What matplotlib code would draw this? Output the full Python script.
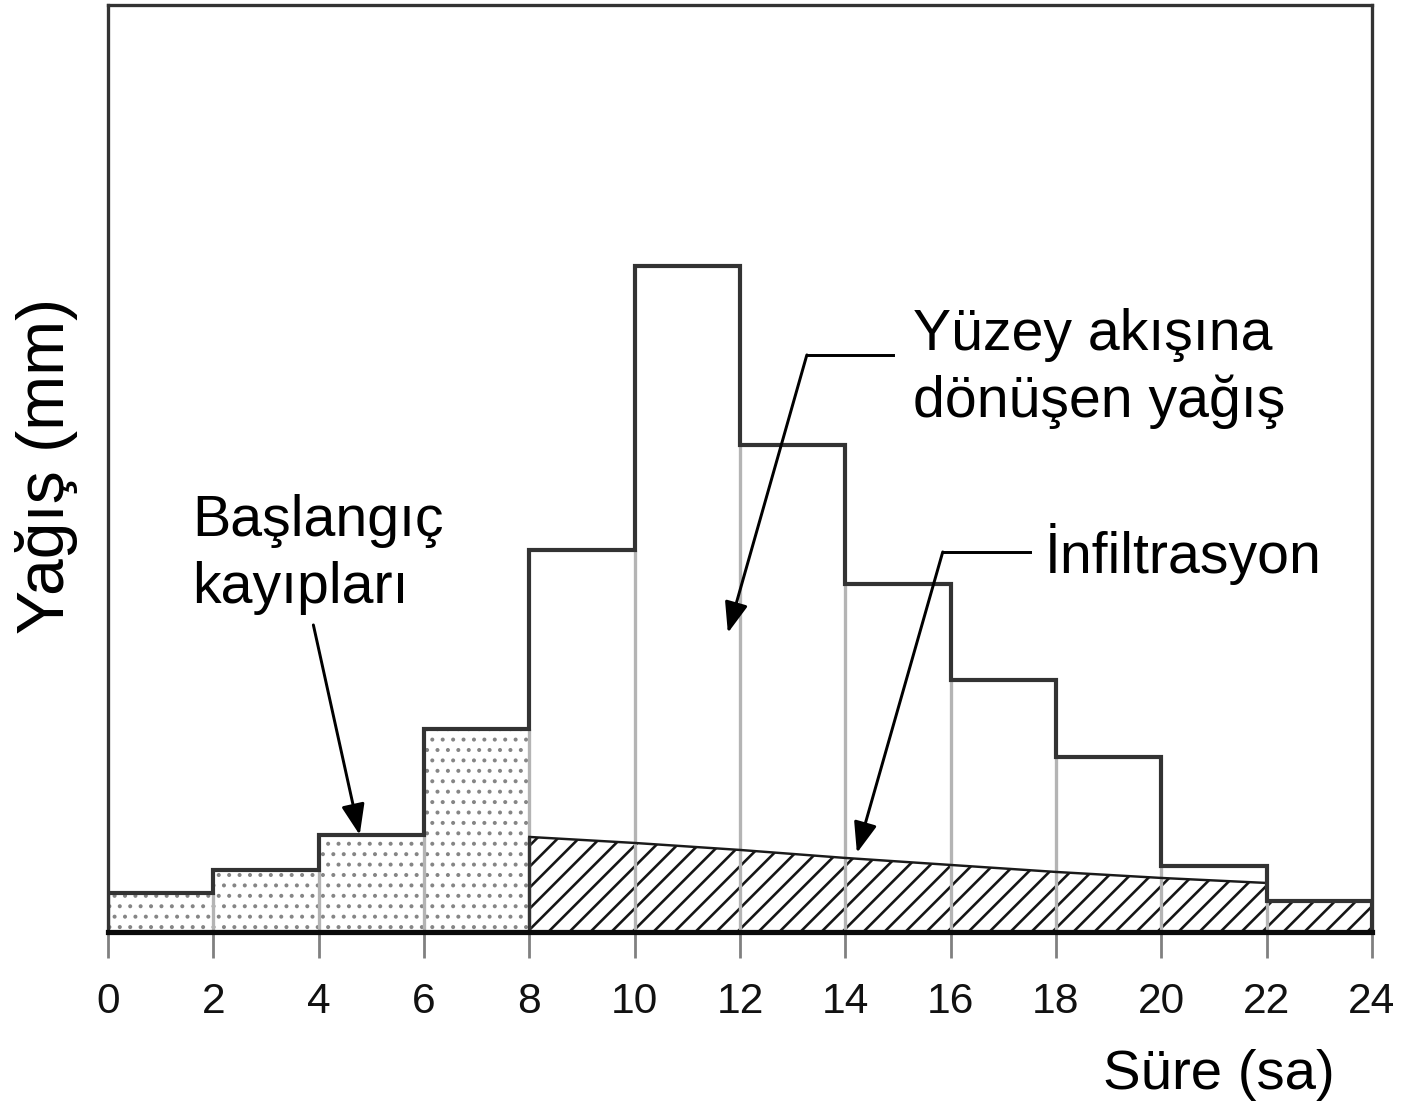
import numpy as np
import matplotlib
matplotlib.use("Agg")
import matplotlib.pyplot as plt
from matplotlib.collections import LineCollection
from matplotlib.patches import Polygon

plt.rcParams["font.family"] = ["Liberation Sans", "DejaVu Sans"]
plt.rcParams["hatch.linewidth"] = 1.1

# Hourly rainfall blocks (2-hour steps) and the infiltration capacity curve
hour_edges = [0, 2, 4, 6, 8, 10, 12, 14, 16, 18, 20, 22, 24]
rainfall = [3.9, 6.2, 9.7, 20.3, 38.2, 66.6, 48.7, 34.8, 25.2, 17.5, 6.6, 3.1]
loss_blocks = 4  # first blocks fully taken by initial losses
infil_hours = [8, 10, 12, 14, 16, 18, 20, 22]
infil_rate = [9.5, 8.9, 8.2, 7.4, 6.7, 6.0, 5.4, 4.9]
tick_hours = list(range(0, 25, 2))

DPI = 125
fig = plt.figure(figsize=(1402 / DPI, 1105 / DPI), dpi=DPI)
ax = fig.add_axes([0.077, 0.1566, 0.9016, 0.839])
ax.set_xlim(0, 24)
ax.set_ylim(0, 92.7)

edges = np.array(hour_edges, dtype=float)
rain = np.array(rainfall)

# Initial losses: stippled blocks
ax.bar(edges[:loss_blocks], rain[:loss_blocks], width=np.diff(edges)[:loss_blocks],
       align="edge", facecolor="white", edgecolor="#858585", hatch="..",
       linewidth=0, zorder=1)

# Infiltration region: area under the capacity curve plus the last block
infil_poly = ([(infil_hours[0], 0)] + list(zip(infil_hours, infil_rate))
              + [(edges[-2], rain[-1]), (edges[-1], rain[-1]), (edges[-1], 0)])
region = Polygon(infil_poly, closed=True, facecolor="white", edgecolor="none", zorder=1)
ax.add_patch(region)

# 45-degree hatching clipped to that region
bbox = ax.get_window_extent()
px_per_hour = bbox.width / 24.0
px_per_unit = bbox.height / 92.7
slope = px_per_hour / px_per_unit
step = 21.0 / px_per_hour
segs = [[(c, 0.0), (c + 3.0, 3.0 * slope)] for c in np.arange(-4.0, 25.0, step)]
hatch = LineCollection(segs, colors="#151515", linewidths=1.5, zorder=1.5)
ax.add_collection(hatch)
hatch.set_clip_path(region)

# Light dividers between blocks
inner = edges[1:-1]
ax.vlines(inner, 0, np.minimum(rain[:-1], rain[1:]), color="#b4b4b4", lw=1.9, zorder=2)

# Infiltration curve and its left edge
ax.plot(infil_hours, infil_rate, color="#1a1a1a", lw=1.4, zorder=3)
ax.vlines(infil_hours[0], 0, infil_rate[0], color="#333333", lw=1.9, zorder=3)

# Hyetograph outline
ax.stairs(rain, edges, baseline=0, color="#333333", lw=2.4, zorder=4)

# Axes frame and ticks
for side in ("left", "top", "right"):
    ax.spines[side].set_color("#333333")
    ax.spines[side].set_linewidth(1.9)
ax.spines["bottom"].set_color("#0a0a0a")
ax.spines["bottom"].set_linewidth(3.0)
ax.spines["bottom"].set_zorder(5)
ax.set_yticks([])
ax.set_xticks(tick_hours)
ax.set_xticklabels([str(h) for h in tick_hours])
ax.tick_params(axis="x", direction="out", length=15, width=1.6, color="#808080",
               pad=14, labelsize=24.5, labelcolor="#111111")

# Axis titles
fig.text(0.0335, 0.578, "Yağış (mm)", rotation=90, ha="center", va="center", fontsize=38)
fig.text(0.8695, 0.0145, "Süre (sa)", ha="center", va="baseline", fontsize=32.5)

# Callouts
arrow = dict(arrowstyle="-|>,head_length=1.0,head_width=0.38", color="black",
             lw=1.7, shrinkA=0, shrinkB=0, mutation_scale=15)
txt = dict(fontsize=33, linespacing=1.3, va="baseline", ha="left", color="black")

ax.text(1.6, 32.9, "Başlangıç\nkayıpları", **txt)
ax.annotate("", xy=(4.78, rain[2]), xytext=(3.9, 30.7), arrowprops=arrow, zorder=6)

ax.text(15.28, 51.5, "Yüzey akışına\ndönüşen yağış", **txt)
ax.plot([13.27, 14.9], [57.7, 57.7], color="black", lw=1.7, zorder=6)
ax.annotate("", xy=(11.77, 29.9), xytext=(13.27, 57.7), arrowprops=arrow, zorder=6)

ax.text(17.79, 35.9, "İnfiltrasyon", **txt)
ax.plot([15.85, 17.5], [38.0, 38.0], color="black", lw=1.7, zorder=6)
ax.annotate("", xy=(14.22, 7.9), xytext=(15.85, 38.0), arrowprops=arrow, zorder=6)

fig.savefig("out.png", dpi=DPI, facecolor="white")
